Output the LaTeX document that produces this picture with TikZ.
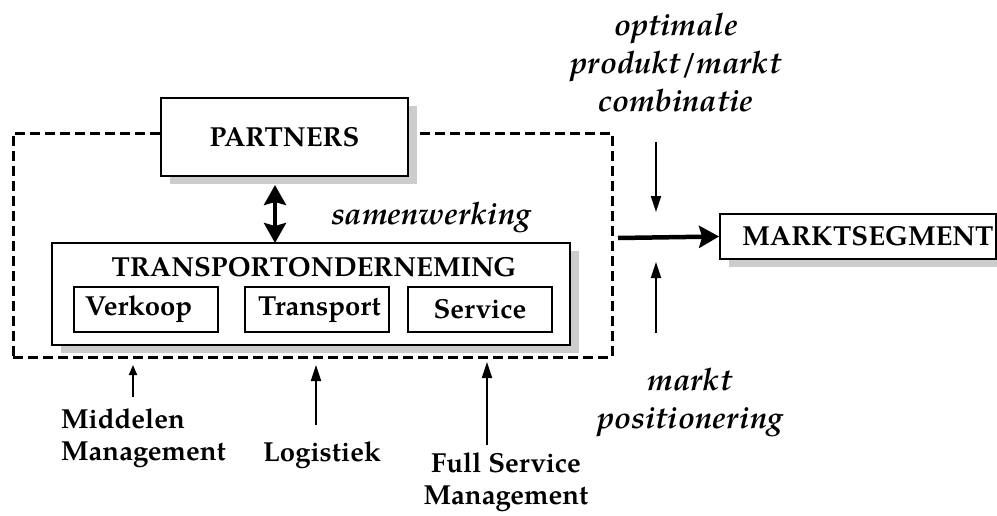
\documentclass[tikz,border=0pt]{standalone}
\usepackage{fontspec}
\setmainfont{TeX Gyre Pagella}
\usetikzlibrary{arrows.meta,shadows}
\begin{document}
\begin{tikzpicture}[x=1pt,y=-1pt,
  box/.style={draw,line width=1.8pt,fill=white,inner sep=0pt},
  shbox/.style={box,drop shadow={shadow xshift=9pt,shadow yshift=-8pt,fill=black!20,opacity=1}},
  bl/.style={font=\fontsize{27.5}{32}\selectfont\bfseries},
  it/.style={font=\fontsize{31}{38}\selectfont\bfseries\itshape},
  thin/.style={line width=1.8pt,-{Triangle[length=16pt,width=10pt]}},
  small/.style={line width=1.8pt,-{Triangle[length=10pt,width=8pt]}},
  fat/.style={line width=4.5pt,-{Stealth[length=20pt,width=22pt,inset=3pt]}},
  dbl/.style={line width=4pt,{Stealth[length=20pt,width=22pt,inset=3pt]}-{Stealth[length=20pt,width=22pt,inset=3pt]}},
  frame/.style={draw,line width=3pt,dash pattern=on 10pt off 5pt,inner sep=0pt}
]
\useasboundingbox (0,0) rectangle (997,515);

% dashed frame
\node[frame,minimum width=599pt,minimum height=224pt] (frm) at (312.5,245) {};

% boxes
\node[shbox,bl,minimum width=247pt,minimum height=78pt] (partners) at (284.5,137) {PARTNERS};
\node[shbox,minimum width=518pt,minimum height=102pt] (tr) at (311,294) {};
\node[bl] (trt) at (314,267) {TRANSPORTONDERNEMING};
\node[box,bl,minimum width=144pt,minimum height=45pt] (verk) at (146,309.5) {Verkoop\hspace*{15pt}};
\node[box,bl,minimum width=144pt,minimum height=45pt] (transp) at (317,309.5) {\hspace*{5pt}Transport};
\node[box,bl,minimum width=144pt,minimum height=45pt] (serv) at (480,309.5) {Service};
\node[shbox,bl,minimum width=276pt,minimum height=45pt] (markt) at (858,236.5) {\hspace*{20pt}MARKTSEGMENT};

% labels
\node[it] (samen) at (431,217) {samenwerking};
\node[it,align=center] (opt) at (676,63) {optimale\\produkt/markt\\combinatie};
\node[it,align=center] (pos) at (690,402) {markt\\positionering};
\node[bl,align=left] (midd) at (143.5,438.5) {Middelen\\Management};
\node[bl] (logi) at (322,455) {Logistiek};
\node[bl,align=center] (fsm) at (506,482.5) {Full Service\\Management};

% connectors
\coordinate (d1) at (275,185);
\coordinate (d2) at (275,243);
\draw[dbl] (d1) -- (d2);

\coordinate (f1) at (618,238);
\draw[fat] (f1) -- (markt.west);

\coordinate (o1) at (656,142);
\coordinate (o2) at (656,212);
\draw[thin] (o1) -- (o2);
\coordinate (p1) at (656,333);
\coordinate (p2) at (656,262);
\draw[thin] (p1) -- (p2);

\coordinate (a1) at (133,397);
\coordinate (a1t) at (133,365);
\draw[small] (a1) -- (a1t);
\coordinate (a2) at (316,425);
\coordinate (a2t) at (316,365);
\draw[thin] (a2) -- (a2t);
\coordinate (a3) at (487,445);
\coordinate (a3t) at (487,362);
\draw[thin] (a3) -- (a3t);
\end{tikzpicture}
\end{document}
